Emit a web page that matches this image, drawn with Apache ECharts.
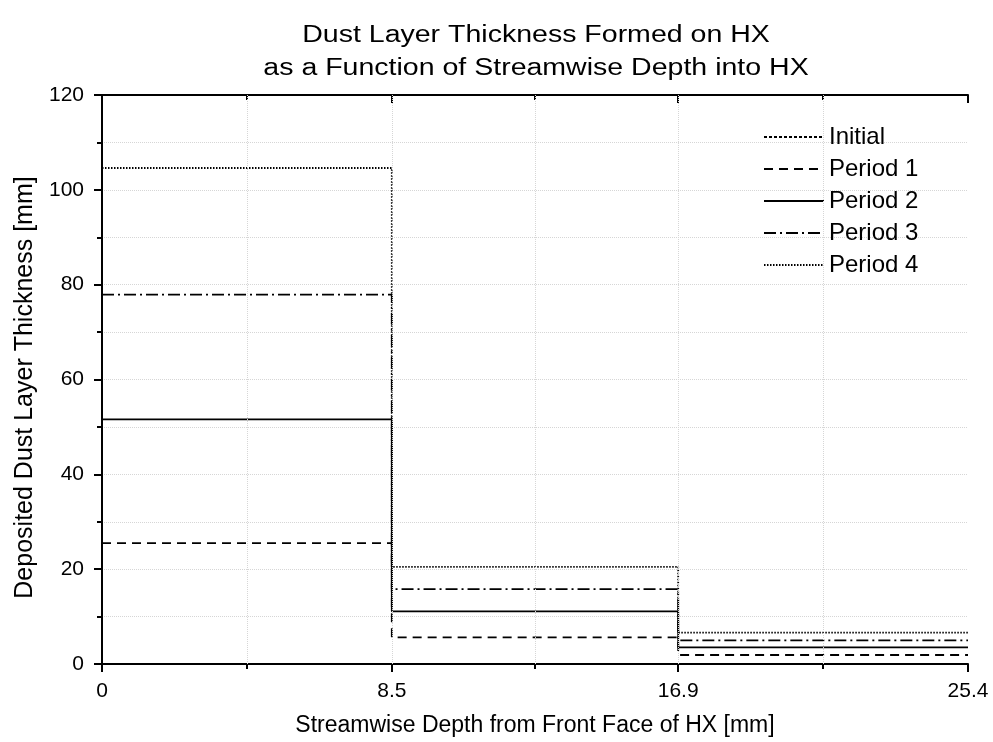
<!DOCTYPE html>
<html>
<head>
<meta charset="utf-8">
<script src="https://cdn.jsdelivr.net/npm/echarts@6/dist/echarts.min.js"></script>
<style>
  html, body { margin: 0; padding: 0; background: #fff; }
  #chart { width: 993px; height: 742px; }
</style>
</head>
<body>
<div id="chart"></div>
<script>
// Streamwise section boundaries [mm]
const edges = [0, 8.5, 16.9, 25.4];
// Minor tick / grid positions between the section boundaries
const minorEdges = [4.25, 12.7, 21.15];
// Dust layer thickness per section [mm]
const seriesNames = ['Initial', 'Period 1', 'Period 2', 'Period 3', 'Period 4'];
const initial = [0, 0, 0];
const period1 = [25.5, 5.6, 1.9];
const period2 = [51.6, 11.1, 3.5];
const period3 = [77.9, 15.8, 5.0];
const period4 = [104.6, 20.5, 6.6];
const yTicks = [0, 20, 40, 60, 80, 100, 120];

const FONT = '"Liberation Sans", Arial, sans-serif';

// Turn per-section values into a stepped profile over the section edges
function stepped(vals) {
  const pts = [];
  vals.forEach((v, i) => {
    pts.push([edges[i], v]);
    pts.push([edges[i + 1], v]);
  });
  return pts;
}

const styles = [
  { type: [3, 2] },
  { type: [9, 6] },
  { type: 'solid' },
  { type: [12, 4, 2, 4] },
  { type: [1.5, 1.5] }
];
const values = [initial, period1, period2, period3, period4];

const gridLine = { type: 'dotted', color: '#d6d6d6', width: 1 };

const xBase = {
  type: 'value', min: edges[0], max: edges[edges.length - 1],
  splitLine: { show: false }, gridIndex: 0
};

const chart = echarts.init(document.getElementById('chart'));
chart.setOption({
  animation: false,
  backgroundColor: '#fff',
  graphic: [{
    type: 'text',
    x: 536, y: 52,
    scaleX: 1.24,
    style: {
      text: 'Dust Layer Thickness Formed on HX\nas a Function of Streamwise Depth into HX',
      fontSize: 23,
      fontFamily: 'Liberation Sans',
      fill: '#000',
      align: 'center',
      verticalAlign: 'middle',
      lineHeight: 33
    }
  }],
  grid: { left: 102, right: 25, top: 95, bottom: 78 },
  legend: {
    orient: 'vertical',
    left: 758, top: 120,
    itemWidth: 60, itemHeight: 14, itemGap: 8,
    data: seriesNames,
    itemStyle: { opacity: 0 },
    lineStyle: { width: 2 },
    textStyle: { fontFamily: FONT, fontSize: 24, color: '#000', lineHeight: 24 }
  },
  xAxis: [
    Object.assign({}, xBase, {
      position: 'bottom',
      name: 'Streamwise Depth from Front Face of HX [mm]',
      nameLocation: 'middle', nameGap: 50,
      nameTextStyle: { fontFamily: FONT, fontSize: 23, color: '#000' },
      axisLine: { lineStyle: { color: '#000', width: 2 } },
      axisTick: { show: true, length: 8, customValues: edges, lineStyle: { color: '#000', width: 2 } },
      axisLabel: { customValues: edges, margin: 17, fontFamily: FONT, fontSize: 21, color: '#000',
        formatter: v => String(v) }
    }),
    Object.assign({}, xBase, {
      position: 'bottom',
      axisLine: { show: false },
      axisTick: { show: true, length: 5, customValues: minorEdges, lineStyle: { color: '#000', width: 2 } },
      axisLabel: { show: false }
    }),
    Object.assign({}, xBase, {
      position: 'top',
      axisLine: { lineStyle: { color: '#000', width: 2 } },
      axisTick: { show: true, inside: true, length: 8, customValues: edges, lineStyle: { color: '#000', width: 2 } },
      axisLabel: { show: false }
    }),
    Object.assign({}, xBase, {
      position: 'top',
      axisLine: { show: false },
      axisTick: { show: true, inside: true, length: 5, customValues: minorEdges, lineStyle: { color: '#000', width: 2 } },
      axisLabel: { show: false }
    })
  ],
  yAxis: [
    {
      type: 'value', position: 'left', min: yTicks[0], max: yTicks[yTicks.length - 1], interval: 20,
      name: 'Deposited Dust Layer Thickness [mm]',
      nameLocation: 'middle', nameGap: 62,
      nameTextStyle: { fontFamily: FONT, fontSize: 25, color: '#000', padding: [0, 16, 0, 0] },
      axisLine: { show: true, lineStyle: { color: '#000', width: 2 } },
      axisTick: { show: true, length: 8, lineStyle: { color: '#000', width: 2 } },
      minorTick: { show: true, splitNumber: 2, length: 5, lineStyle: { color: '#000', width: 2 } },
      splitLine: { show: true, lineStyle: gridLine },
      minorSplitLine: { show: true, lineStyle: gridLine },
      axisLabel: { margin: 18, fontFamily: FONT, fontSize: 21, color: '#000' }
    },
    {
      type: 'value', position: 'right', min: yTicks[0], max: yTicks[yTicks.length - 1], interval: 20,
      axisLine: { show: true, lineStyle: { color: '#000', width: 2 } },
      axisTick: { show: true, inside: true, length: 8, lineStyle: { color: '#000', width: 2 } },
      minorTick: { show: true, splitNumber: 2, length: 5, lineStyle: { color: '#000', width: 2 } },
      splitLine: { show: false },
      axisLabel: { show: false }
    }
  ],
  series: [
    {
      // vertical grid lines at section edges and midpoints
      name: 'xgrid', type: 'line', data: [], silent: true, z: 0,
      markLine: {
        silent: true, symbol: 'none', label: { show: false },
        lineStyle: gridLine, animation: false,
        data: minorEdges.concat(edges.slice(1, -1)).map(x => ({ xAxis: x }))
      }
    }
  ].concat(seriesNames.map((name, i) => ({
    name: name,
    type: 'line',
    xAxisIndex: 0, yAxisIndex: 0,
    data: stepped(values[i]),
    symbol: 'none',
    z: 3,
    lineStyle: { color: '#000', width: 1.8, type: styles[i].type },
    itemStyle: { color: '#000' }
  })))
});
</script>
</body>
</html>
